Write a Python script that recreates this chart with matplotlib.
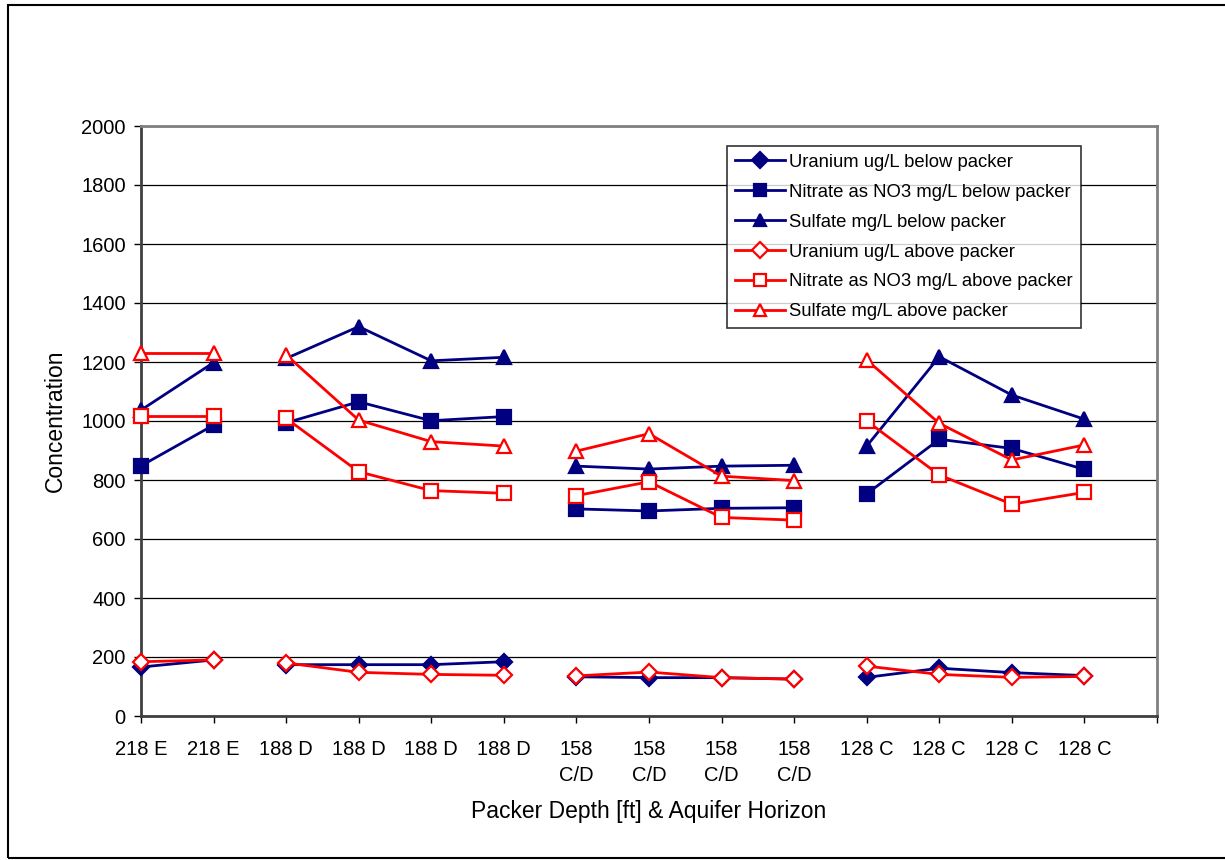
import matplotlib
matplotlib.use("Agg")
import matplotlib.pyplot as plt
from matplotlib.patches import Rectangle
import numpy as np

plt.rcParams['font.family'] = ['Liberation Sans', 'DejaVu Sans']

categories = ["218 E", "218 E", "188 D", "188 D", "188 D", "188 D",
              "158\nC/D", "158\nC/D", "158\nC/D", "158\nC/D",
              "128 C", "128 C", "128 C", "128 C"]

uranium_below = [166, 190, 174, 174, 174, 184, 133, 130, 130, 125, 131, 162, 147, 137]
nitrate_below = [848, 986, 994, 1065, 1001, 1015, 702, 695, 704, 706, 753, 938, 907, 836]
sulfate_below = [1037, 1198, 1212, 1320, 1204, 1216, 847, 837, 847, 850, 915, 1218, 1088, 1006]
uranium_above = [184, 190, 180, 148, 141, 138, 136, 149, 130, 125, 169, 141, 131, 134]
nitrate_above = [1017, 1017, 1009, 828, 764, 755, 747, 794, 673, 664, 1000, 817, 718, 758]
sulfate_above = [1229, 1229, 1224, 1003, 930, 915, 898, 957, 813, 798, 1207, 992, 868, 919]

series = [
    ("Uranium ug/L below packer", uranium_below, "D", "#000080", True),
    ("Nitrate as NO3 mg/L below packer", nitrate_below, "s", "#000080", True),
    ("Sulfate mg/L below packer", sulfate_below, "^", "#000080", True),
    ("Uranium ug/L above packer", uranium_above, "D", "#FF0000", False),
    ("Nitrate as NO3 mg/L above packer", nitrate_above, "s", "#FF0000", False),
    ("Sulfate mg/L above packer", sulfate_above, "^", "#FF0000", False),
]

W, H = 1225, 860
fig = plt.figure(figsize=(W / 100, H / 100), dpi=100)
fig.patches.append(Rectangle((8 / W, 2 / H), 1.2, (855 - 2) / H, transform=fig.transFigure,
                             fill=False, edgecolor="black", linewidth=1.5, zorder=0))

ax = fig.add_axes([141 / W, (H - 716) / H, 1016 / W, 590 / H])

x = np.arange(len(categories))
# segments: break the lines where the category (packer depth) changes
breaks = [0] + [i for i in range(1, len(categories)) if categories[i] != categories[i - 1]] + [len(categories)]

handles = []
for name, vals, mk, col, filled in series:
    vals = np.array(vals, dtype=float)
    ms = 8 if mk == "D" else 10
    for a, b in zip(breaks[:-1], breaks[1:]):
        h, = ax.plot(x[a:b], vals[a:b], color=col, linewidth=2.0, marker=mk, markersize=ms,
                     markerfacecolor=col if filled else "white", markeredgecolor=col,
                     markeredgewidth=1.6, zorder=3, clip_on=False)
    handles.append((h, name))

ax.set_xlim(0, len(categories))
ax.set_ylim(0, 2000)
ax.set_yticks(np.arange(0, 2001, 200))
ax.set_xticks(np.arange(0, len(categories) + 1))
ax.set_xticklabels(categories + [""], linespacing=1.5)
ax.yaxis.grid(True, color="black", linewidth=0.9)
ax.set_axisbelow(True)

for s in ["top", "right"]:
    ax.spines[s].set_color("#808080")
    ax.spines[s].set_linewidth(2)
for s in ["left", "bottom"]:
    ax.spines[s].set_color("#404040")
    ax.spines[s].set_linewidth(2)

ax.tick_params(axis="both", direction="out", length=5, width=1, color="black", labelsize=14.5)
ax.tick_params(axis="y", pad=6)
ax.tick_params(axis="x", pad=12)

ax.set_ylabel("Concentration", fontsize=16.5, labelpad=10)
ax.set_xlabel("Packer Depth [ft] & Aquifer Horizon", fontsize=16.5, labelpad=11)

leg = fig.legend([h for h, _ in handles], [n for _, n in handles],
                 loc="upper left", bbox_to_anchor=(727 / W, 1 - 146 / H),
                 bbox_transform=fig.transFigure, borderaxespad=0,
                 fontsize=13.3, frameon=True, fancybox=False, shadow=False,
                 handlelength=2.7, handletextpad=0.25, labelspacing=0.7,
                 borderpad=0.42)
leg.get_frame().set_edgecolor("black")
leg.get_frame().set_linewidth(1.2)
for lh in leg.legend_handles:
    lh.set_markersize(8)

fig.savefig("out.png", dpi=100, facecolor="white")
